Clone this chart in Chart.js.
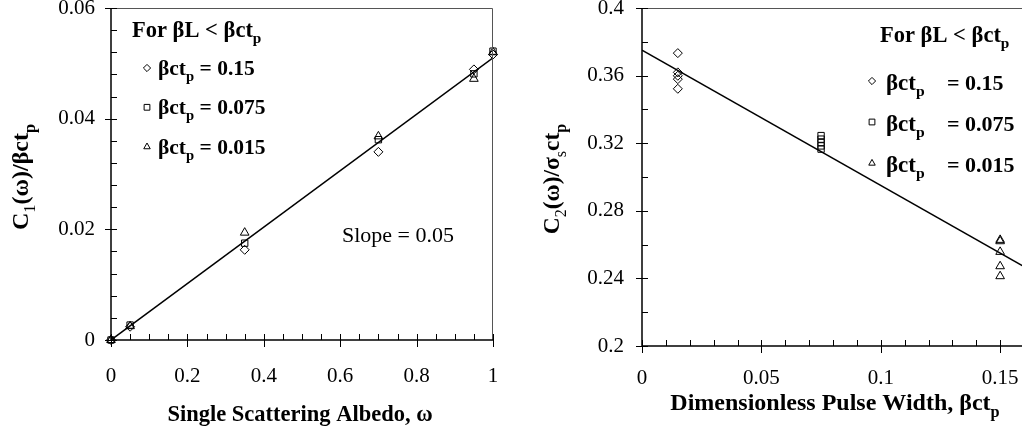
<!DOCTYPE html>
<html lang="en">
<head>
<meta charset="UTF-8" />
<title>C1 and C2 coefficients</title>
<script src="https://cdn.jsdelivr.net/npm/chart.js"></script>
<style>
  html, body { margin: 0; padding: 0; background: #fff; overflow: hidden; }
  .panel { position: absolute; top: 0; height: 434px; }
  #left { left: 0; width: 510px; }
  #right { left: 510px; width: 520px; }
</style>
</head>
<body>
<div class="panel" id="left"><canvas id="c1" width="510" height="434"></canvas></div>
<div class="panel" id="right"><canvas id="c2" width="520" height="434"></canvas></div>
<script>
// left panel: C1/bct_p against single scattering albedo
const albedo = [0, 0.05, 0.35, 0.7, 0.95, 1];
const c1Diamond = [0, 0.0024, 0.0163, 0.0340, 0.0489, 0.0516];
const c1Square = [0, 0.0027, 0.0175, 0.0362, 0.0481, 0.0522];
const c1Triangle = [0, 0.0025, 0.0194, 0.0368, 0.0472, 0.0520];
const c1FitX = [0, 1];
const c1FitY = [0, 0.051];

// right panel: C2/sigma ct_p against pulse width
const pulseWidths = [0.015, 0.075, 0.15];
const c2Diamond = [0.3733, 0.3619, 0.3599, 0.3579, 0.3522];
const c2Square = [0.3245, 0.3224, 0.3204, 0.3184, 0.3165];
const c2Triangle = [0.2628, 0.2620, 0.2557, 0.2472, 0.2413];
const c2FitX = [0, 0.16];
const c2FitY = [0.375, 0.247];

const seriesValues = ['0.15', '0.075', '0.015'];
const seriesStyles = ['rectRot', 'rect', 'triangle'];

const SERIF = '"Liberation Serif", "Times New Roman", serif';
function font(size, bold) { return (bold ? 'bold ' : '') + size + 'px ' + SERIF; }

// draw text made of pieces, some of them subscripts
function rich(ctx, parts, x, y, size, align) {
  const sz = p => p.sub ? size * 0.68 : size;
  let w = 0;
  parts.forEach(p => { ctx.font = font(sz(p), !p.reg); w += ctx.measureText(p.t).width; });
  let cx = align === 'center' ? x - w / 2 : (align === 'right' ? x - w : x);
  ctx.textAlign = 'left';
  ctx.textBaseline = 'alphabetic';
  ctx.fillStyle = '#000';
  parts.forEach(p => {
    ctx.font = font(sz(p), !p.reg);
    ctx.fillText(p.t, cx, y + (p.sub ? size * 0.28 : 0));
    cx += ctx.measureText(p.t).width;
  });
}

function marker(ctx, style, x, y, r) {
  ctx.beginPath();
  if (style === 'rectRot') {
    ctx.moveTo(x, y - r); ctx.lineTo(x + r, y); ctx.lineTo(x, y + r); ctx.lineTo(x - r, y);
  } else if (style === 'rect') {
    const h = r * 0.8;
    ctx.rect(x - h, y - h, 2 * h, 2 * h);
  } else {
    ctx.moveTo(x, y - r); ctx.lineTo(x + r * 0.9, y + r * 0.6); ctx.lineTo(x - r * 0.9, y + r * 0.6);
  }
  ctx.closePath();
  ctx.stroke();
}

function eachTick(min, max, minor, major, cb) {
  const n = Math.round((max - min) / minor);
  for (let i = 0; i <= n; i++) {
    const v = min + i * minor;
    const r = v / major;
    cb(v, Math.abs(r - Math.round(r)) < 1e-6);
  }
}

function makeDeco(cfg) {
  return {
    id: 'deco',
    afterDraw(chart) {
      const { ctx, chartArea: a, scales: { x, y } } = chart;
      ctx.save();
      // thin top / right frame
      ctx.strokeStyle = '#555';
      ctx.lineWidth = 1;
      ctx.beginPath();
      ctx.moveTo(a.left, a.top + 0.5);
      ctx.lineTo(a.right - 0.5, a.top + 0.5);
      ctx.lineTo(a.right - 0.5, a.bottom);
      ctx.stroke();
      // axes
      ctx.strokeStyle = '#000';
      ctx.lineWidth = 1.5;
      ctx.beginPath();
      ctx.moveTo(a.left, a.top);
      ctx.lineTo(a.left, a.bottom);
      ctx.lineTo(a.right, a.bottom);
      ctx.stroke();
      ctx.lineWidth = 1;
      ctx.beginPath();
      eachTick(x.min, x.max, cfg.minorX, cfg.majorX, (v, major) => {
        const px = Math.round(x.getPixelForValue(v)) + 0.5;
        ctx.moveTo(px, a.bottom - 6);
        ctx.lineTo(px, major ? a.bottom + 7 : a.bottom);
      });
      eachTick(y.min, y.max, cfg.minorY, cfg.majorY, (v, major) => {
        const py = Math.round(y.getPixelForValue(v)) + 0.5;
        ctx.moveTo(a.left + 6, py);
        ctx.lineTo(major ? a.left - 6 : a.left, py);
      });
      ctx.stroke();
      cfg.text(ctx, a);
      ctx.restore();
    }
  };
}

function scatterSet(points, style, r) {
  return {
    data: points, showLine: false, pointStyle: style, pointRadius: r, clip: false,
    pointBorderColor: '#000', pointBackgroundColor: 'rgba(0,0,0,0)', pointBorderWidth: 1
  };
}
function fitSet(xs, ys) {
  return {
    data: xs.map((v, i) => ({ x: v, y: ys[i] })), showLine: true, pointRadius: 0,
    borderColor: '#000', borderWidth: 1.5, fill: false
  };
}

function fixScale(size, key) {
  return s => {
    s[key] = size;
    s.paddingLeft = 0; s.paddingRight = 0; s.paddingTop = 0; s.paddingBottom = 0;
  };
}

function axis(min, max, step, pad, afterFit) {
  return {
    type: 'linear', min: min, max: max, bounds: 'data',
    grid: { display: false, drawTicks: false },
    border: { display: false },
    ticks: { stepSize: step, padding: pad, color: '#000', maxRotation: 0,
             font: { family: SERIF, size: 21 },
             callback: v => String(Number(v.toFixed(4))) },
    // keep only the labelled multiples of the step
    afterBuildTicks: s => {
      s.ticks = s.ticks.filter(t => Math.abs(t.value / step - Math.round(t.value / step)) < 1e-6);
    },
    afterFit: afterFit
  };
}

// ---------- left chart ----------
new Chart(document.getElementById('c1'), {
  type: 'scatter',
  data: {
    datasets: [
      fitSet(c1FitX, c1FitY),
      scatterSet(albedo.map((v, i) => ({ x: v, y: c1Diamond[i] })), 'rectRot', 4.5),
      scatterSet(albedo.map((v, i) => ({ x: v, y: c1Square[i] })), 'rect', 4.5),
      scatterSet(albedo.map((v, i) => ({ x: v, y: c1Triangle[i] })), 'triangle', 5)
    ]
  },
  options: {
    responsive: false, animation: false,
    layout: { padding: { left: 0, top: 8, right: 17, bottom: 0 } },
    plugins: { legend: { display: false }, tooltip: { enabled: false } },
    scales: {
      x: axis(0, 1, 0.2, 24, fixScale(94, 'height')),
      y: axis(0, 0.06, 0.02, 16, fixScale(111, 'width'))
    }
  },
  plugins: [makeDeco({
    minorX: 0.05, majorX: 0.2, minorY: 0.004, majorY: 0.02,
    text(ctx) {
      rich(ctx, [{ t: 'For βL < βct' }, { t: 'p', sub: 1 }], 132, 37, 22.5, 'left');
      ctx.strokeStyle = '#000';
      ctx.lineWidth = 1;
      seriesValues.forEach((val, i) => {
        const yy = 68 + i * 39.3;
        marker(ctx, seriesStyles[i], 147, yy, 3.6);
        rich(ctx, [{ t: 'βct' }, { t: 'p', sub: 1 }, { t: ' = ' + val }], 158, yy + 7, 21.5, 'left');
      });
      rich(ctx, [{ t: 'Slope = 0.05', reg: 1 }], 342, 242, 22, 'left');
      rich(ctx, [{ t: 'Single Scattering Albedo, ω' }], 300, 421, 22.5, 'center');
      ctx.save();
      ctx.translate(28, 177);
      ctx.rotate(-Math.PI / 2);
      rich(ctx, [{ t: 'C' }, { t: '1', sub: 1, reg: 1 }, { t: '(ω)/βct' }, { t: 'p', sub: 1 }], 0, 0, 24, 'center');
      ctx.restore();
    }
  })]
});

// ---------- right chart ----------
new Chart(document.getElementById('c2'), {
  type: 'scatter',
  data: {
    datasets: [
      fitSet(c2FitX, c2FitY),
      scatterSet(c2Diamond.map(v => ({ x: pulseWidths[0], y: v })), 'rectRot', 4.5),
      scatterSet(c2Square.map(v => ({ x: pulseWidths[1], y: v })), 'rect', 4.5),
      scatterSet(c2Triangle.map(v => ({ x: pulseWidths[2], y: v })), 'triangle', 5)
    ]
  },
  options: {
    responsive: false, animation: false,
    layout: { padding: { left: 0, top: 8, right: 3, bottom: 0 } },
    plugins: { legend: { display: false }, tooltip: { enabled: false } },
    scales: {
      x: axis(0, 0.16, 0.05, 20, fixScale(88, 'height')),
      y: axis(0.2, 0.4, 0.04, 18, fixScale(132, 'width'))
    }
  },
  plugins: [makeDeco({
    minorX: 0.01, majorX: 0.05, minorY: 0.02, majorY: 0.04,
    text(ctx) {
      // canvas starts at page x = 510
      rich(ctx, [{ t: 'For βL < βct' }, { t: 'p', sub: 1 }], 370, 42, 22.5, 'left');
      ctx.strokeStyle = '#000';
      ctx.lineWidth = 1;
      seriesValues.forEach((val, i) => {
        const yy = 81 + i * 41;
        marker(ctx, seriesStyles[i], 362, yy, 3.6);
        rich(ctx, [{ t: 'βct' }, { t: 'p', sub: 1 }], 376, yy + 9, 23, 'left');
        rich(ctx, [{ t: '= ' + val }], 437, yy + 9, 22, 'left');
      });
      rich(ctx, [{ t: 'Dimensionless Pulse Width, βct' }, { t: 'p', sub: 1 }], 325, 410, 24, 'center');
      ctx.save();
      ctx.translate(49, 179);
      ctx.rotate(-Math.PI / 2);
      rich(ctx, [{ t: 'C' }, { t: '2', sub: 1, reg: 1 }, { t: '(ω)/σ' }, { t: 's', sub: 1, reg: 1 },
                 { t: 'ct' }, { t: 'p', sub: 1 }], 0, 0, 23.5, 'center');
      ctx.restore();
    }
  })]
});
</script>
</body>
</html>
